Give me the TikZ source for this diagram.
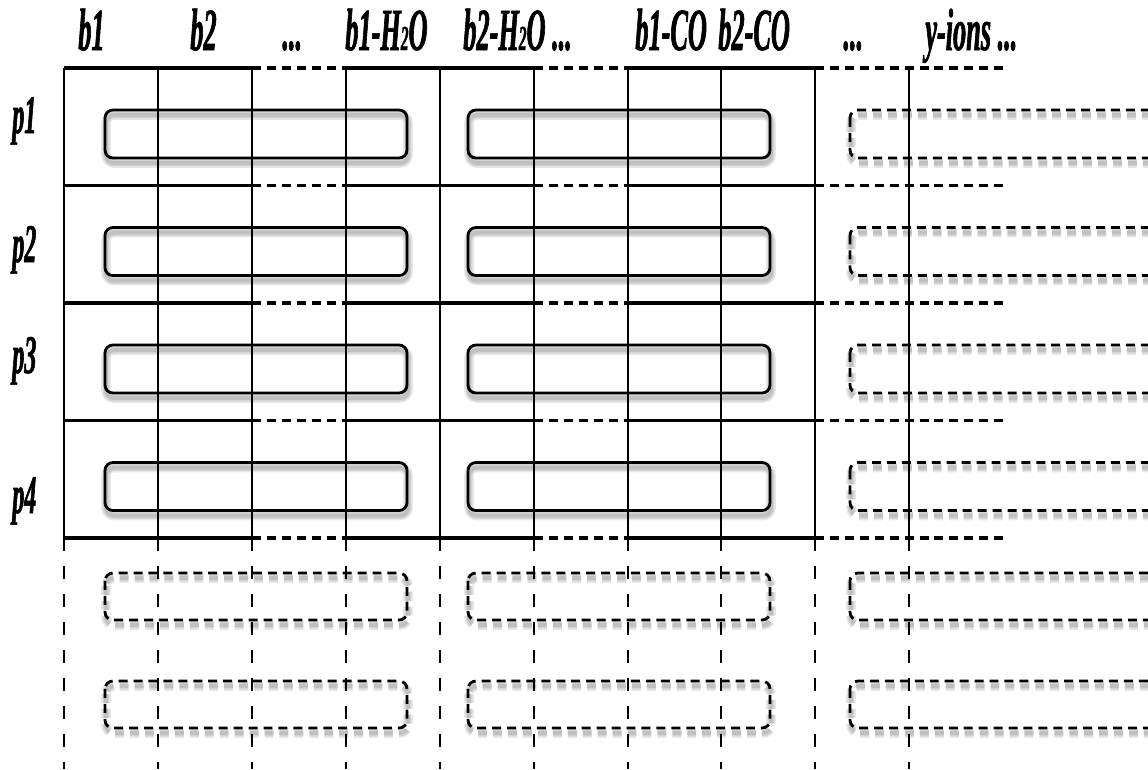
\documentclass[tikz,border=0pt]{standalone}
\usepackage{fontspec}
\newfontfamily\labfont[FakeStretch=0.44,FakeBold=1]{Liberation Serif}
\usepackage{tikz}
\usetikzlibrary{positioning}
\newcommand{\tdots}{...}
\newcommand{\sm}[1]{{\fontsize{20}{20}\selectfont #1}}

\begin{document}
\begin{tikzpicture}[
  x=0.02cm, y=-0.02cm,
  hl/.style={line width=2.2pt},
  vl/.style={line width=1.1pt},
  hdash/.style={dash pattern=on 5.1pt off 3.4pt},
  vdash/.style={dash pattern=on 7.4pt off 8.5pt},
  pbox/.style={line width=1.6pt, rounded corners=4.5pt},
  shade/.style={pbox, line width=#1, draw opacity=0.09, shift={(1,5)}},
  lab/.style={font=\labfont\bfseries\itshape\fontsize{34}{36}\selectfont, anchor=base west, inner sep=0pt},
  rlab/.style={lab, font=\labfont\bfseries\itshape\fontsize{31}{33}\selectfont}
]
\useasboundingbox (0,0) rectangle (1148,769);
\clip (0,0) rectangle (1148,769);

% ion columns
\foreach \i/\x/\t in {1/78/b1, 2/190/b2, 3/282/\tdots, 4/345/{b1-H\sm{2}O},
    5/463/{b2-H\sm{2}O \tdots}, 6/635/b1-CO, 7/718/b2-CO, 8/843/\tdots, 9/925/{y-ions \tdots}}
  \node[lab] (h\i) at (\x,50) {\t};

% peptides
\foreach \i/\y in {1/133,2/262,3/373,4/513}
  \node[rlab] (p\i) at (12,\y) {p\i};

% shadows
\foreach \t in {110,227.5,345,462.5} {
  \foreach \a/\b in {105/407,468/770}
    \foreach \w in {5.5pt,3.8pt,2.2pt}
      \draw[shade=\w] (\a,\t) rectangle (\b,\t+48);
  \foreach \w in {5.5pt,3.8pt,2.2pt}
    \draw[shade=\w, hdash] (850,\t) rectangle (1200,\t+48);
}
\foreach \t in {573,681}
  \foreach \a/\b in {105/407,468/770,850/1200}
    \foreach \w in {5.5pt,3.8pt,2.2pt}
      \draw[shade=\w, hdash] (\a,\t) rectangle (\b,\t+47);

% grid
\foreach \y in {68,185.5,303,420.5,538}
  \foreach \a/\b/\s in {64/252/solid,252/346/hdash,346/534/solid,534/628/hdash,628/815/solid,815/1003/hdash}
    \draw[hl,\s] (\a,\y) -- (\b,\y);
\foreach \x in {64,158,252,346,440,534,628,721,815,909} {
  \draw[vl] (\x,68) -- (\x,538);
  \draw[vl,vdash] (\x,538) -- (\x,769);
}

% boxes
\foreach \t in {110,227.5,345,462.5} {
  \foreach \a/\b in {105/407,468/770}
    \draw[pbox] (\a,\t) rectangle (\b,\t+48);
  \draw[pbox,hdash] (850,\t) rectangle (1200,\t+48);
}
\foreach \t in {573,681}
  \foreach \a/\b in {105/407,468/770,850/1200}
    \draw[pbox,hdash] (\a,\t) rectangle (\b,\t+47);
\end{tikzpicture}
\end{document}
